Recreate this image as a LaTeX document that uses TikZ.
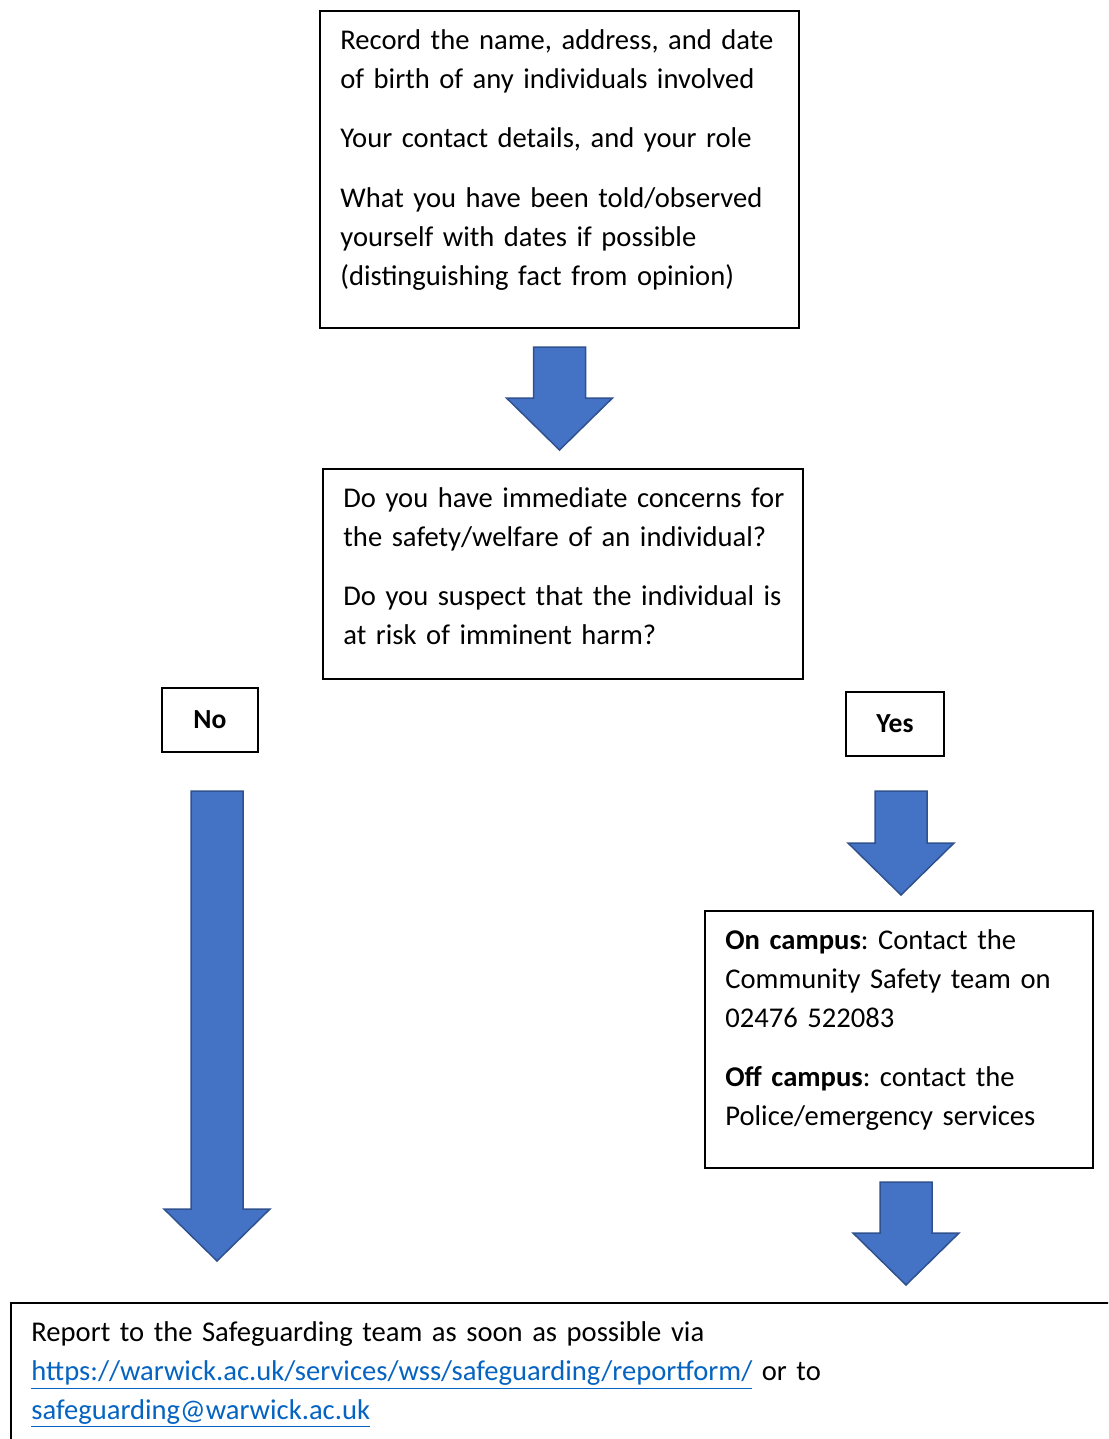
\documentclass[tikz,border=0pt]{standalone}
\usepackage{fontspec}
\setmainfont{Carlito}
\usetikzlibrary{calc}

\definecolor{arrowblue}{HTML}{4472C4}
\definecolor{arrowedge}{HTML}{2F528F}
\definecolor{linkblue}{HTML}{0563C1}

\frenchspacing
\newcommand{\weblink}[1]{\textcolor{linkblue}{\underline{#1}}}
% block arrow pointing down: top centre, then tip (only its y is used)
\newcommand{\blockdown}[2]{%
  \draw[blockarrow] let \p1=#1, \p2=#2 in
    (\x1-13pt,\y1) -- (\x1+13pt,\y1) -- (\x1+13pt,\y2+26pt) -- (\x1+26.5pt,\y2+26pt)
    -- (\x1,\y2) -- (\x1-26.5pt,\y2+26pt) -- (\x1-13pt,\y2+26pt) -- cycle;}

\tikzset{
  box/.style={draw, line width=1pt, anchor=north west, inner sep=0pt},
  boxtext/.style={anchor=north west, inner sep=0pt, text width=#1, align=left,
    font=\fontsize{14.3}{19.4}\selectfont},
  answer/.style={draw, line width=1pt, inner sep=0pt, minimum height=32pt,
    font=\fontsize{13.8}{16}\selectfont\bfseries},
  blockarrow/.style={fill=arrowblue, draw=arrowedge, line width=0.75pt, line join=miter}
}

\begin{document}
\begin{tikzpicture}[x=0.5pt, y=-0.5pt]
        \useasboundingbox (0,0) rectangle (1108,1439);
        \clip (0,0) rectangle (1108,1439);
        % boxes
        \node [box, minimum width=239.5pt, minimum height=158.5pt] (record) at (319,10) {};
        \node [box, minimum width=240pt, minimum height=105pt] (question) at (322,468) {};
        \node [answer, minimum width=48pt] (no) at (210,720) {No};
        \node [answer, minimum width=49pt] (yes) at (895,724) {Yes};
        \node [box, minimum width=194pt, minimum height=128.5pt] (campus) at (704,910) {};
        \node [box, minimum width=560pt, minimum height=100pt] (report) at (10,1302) {};
        % texts
        \node [boxtext=300pt] (recordtext) at ($(record.north west)+(21,12)$)
            {\strut Record the name, address, and date\\ of birth of any individuals involved\\[10.4pt]
             Your contact details, and your role\\[10.4pt]
             What you have been told/observed\\ yourself with dates if possible\\ (distinguishing fact from opinion)};
        \node [boxtext=300pt] (questiontext) at ($(question.north west)+(21,12)$)
            {\strut Do you have immediate concerns for\\ the safety/welfare of an individual?\\[10.4pt]
             Do you suspect that the individual is\\ at risk of imminent harm?};
        \node [boxtext=260pt] (campustext) at ($(campus.north west)+(21,12)$)
            {\strut\textbf{On campus}: Contact the\\ Community Safety team on\\ 02476 522083\\[10.4pt]
             \textbf{Off campus}: contact the\\ Police/emergency services};
        \node [boxtext=540pt] (reporttext) at ($(report.north west)+(21,12)$)
            {\strut Report to the Safeguarding team as soon as possible via\\
             \weblink{https://warwick.ac.uk/services/wss/safeguarding/reportform/} or to\\
             \weblink{safeguarding@warwick.ac.uk}};
        % arrows
        \blockdown{($(record.south)+(0,18)$)}{($(question.north)+(0,-18)$)}
        \blockdown{($(no.south)+(7,38)$)}{($(report.north)+(0,-41)$)}
        \blockdown{($(yes.south)+(6,34)$)}{($(campus.north)+(0,-15)$)}
        \blockdown{($(campus.south)+(7,13)$)}{($(report.north)+(0,-17)$)}
    \end{tikzpicture}
\end{document}
